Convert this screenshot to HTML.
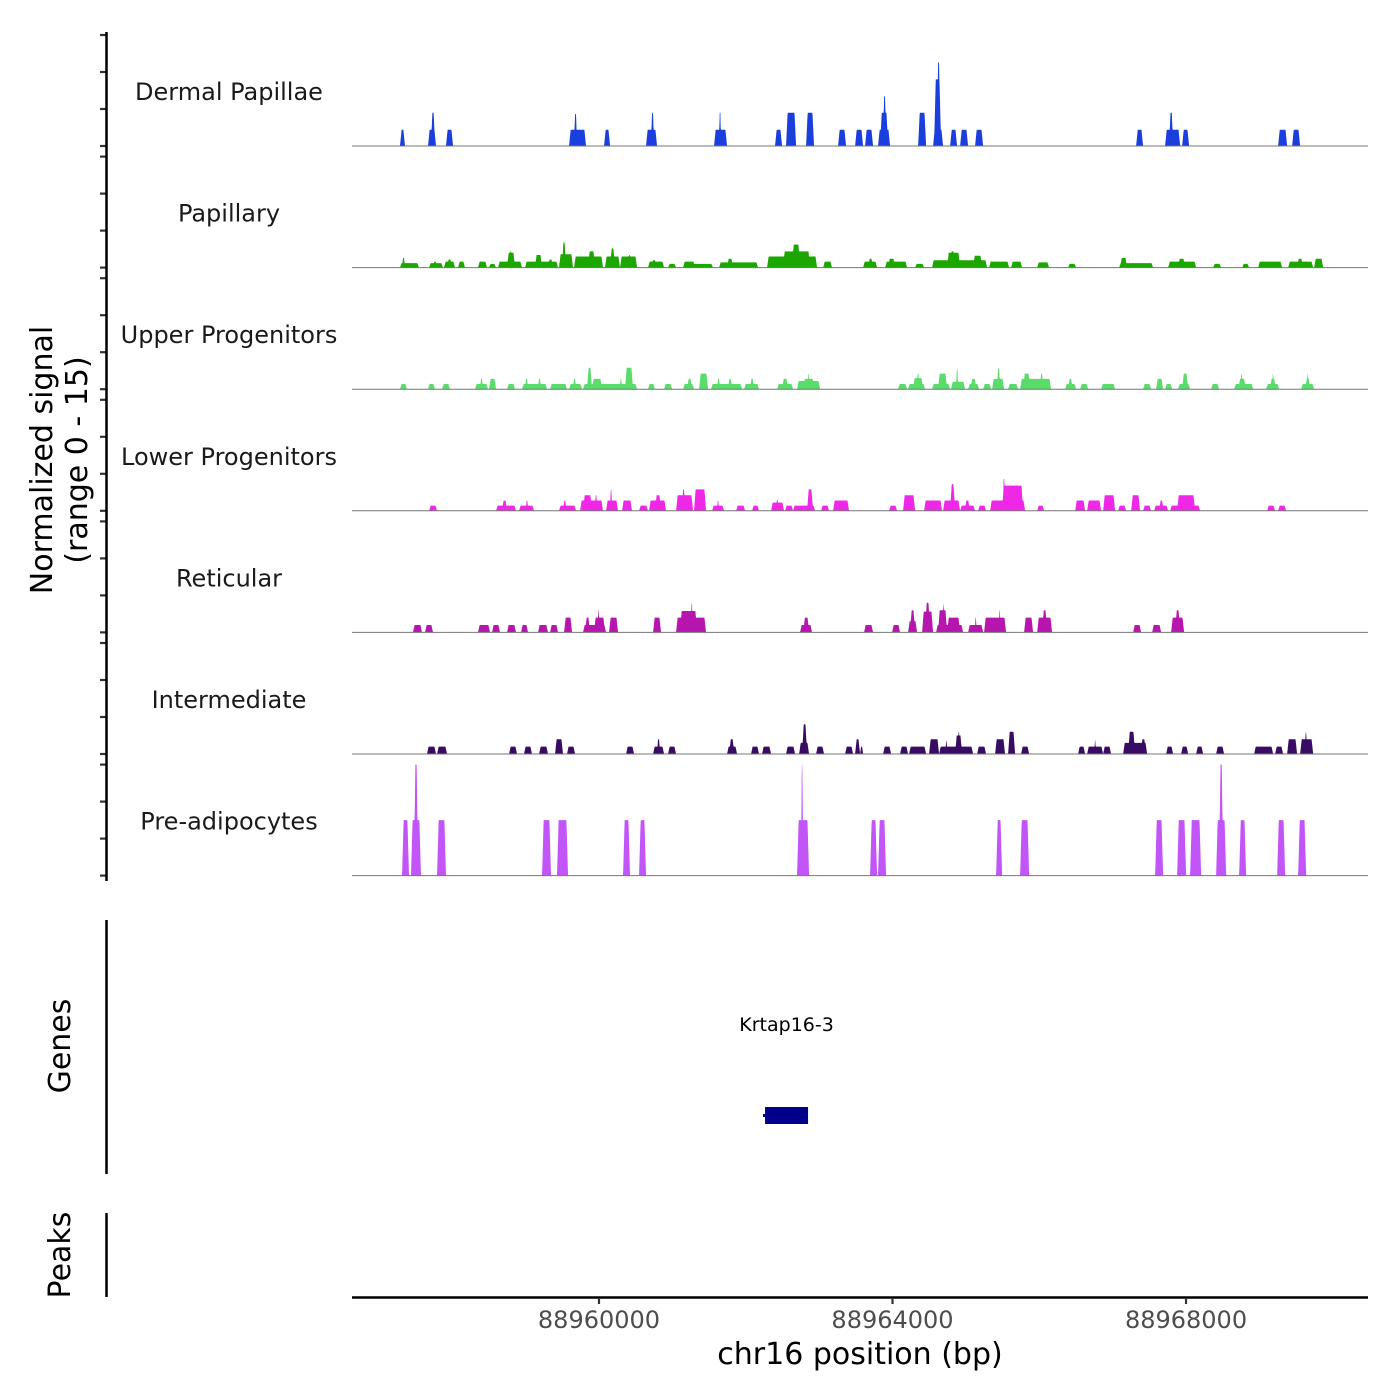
<!DOCTYPE html>
<html><head><meta charset="utf-8"><style>
html,body{margin:0;padding:0;background:#fff;}
svg{display:block;font-family:"DejaVu Sans","Liberation Sans",sans-serif;}
</style></head><body>
<svg id="chart" width="1400" height="1400" viewBox="0 0 1400 1400" xmlns="http://www.w3.org/2000/svg">
<g id="tracks"></g>
<g id="yaxis"></g>
<text transform="translate(52,460) rotate(-90)" text-anchor="middle" font-size="30" fill="#000"><tspan x="0" dy="0">Normalized signal</tspan><tspan x="0" dy="35">(range 0 - 15)</tspan></text>
<line x1="106.5" y1="920" x2="106.5" y2="1174" stroke="#000" stroke-width="2.5"/>
<text transform="translate(70,1046) rotate(-90)" text-anchor="middle" font-size="30">Genes</text>
<g id="genes"></g>
<line x1="106.5" y1="1213" x2="106.5" y2="1297" stroke="#000" stroke-width="2.5"/>
<text transform="translate(70,1255) rotate(-90)" text-anchor="middle" font-size="30">Peaks</text>
<g id="xaxis"></g>
<text x="860" y="1364" text-anchor="middle" font-size="30">chr16 position (bp)</text>
</svg>
<script>
const regionStart = 88956634;
const regionEnd = 88970480;
const trackNames = ["Dermal Papillae","Papillary","Upper Progenitors","Lower Progenitors","Reticular","Intermediate","Pre-adipocytes"];
const trackColors = ["#1a3fdc","#1ba600","#5adc6a","#ef28e8","#b616ae","#3a0b62","#c155f7"];
const xTicks = [88960000, 88964000, 88968000];
const xTickLabels = ["88960000","88964000","88968000"];
const yTicks = [0,5,10,15];
const geneNames = ["Krtap16-3"];
const geneStarts = [88962263];
const geneEnds = [88962849];
// segments: [start offset bp from regionStart, end offset bp, normalized signal]
const dermalPapillae = [[654,722,2.2],[1036,1145,2.2],[1077,1131,4.5],[1281,1377,2.2],[2958,3189,2.2],[3026,3067,4.3],[3435,3517,2.2],[4007,4157,2.2],[4075,4116,4.5],[4934,5111,2.2],[5002,5029,4.5],[5765,5861,2.2],[5915,6052,4.5],[6188,6297,4.5],[6624,6733,2.2],[6856,6965,2.2],[6992,7101,2.2],[7169,7333,2.2],[7197,7306,4.5],[7238,7278,6.7],[7715,7824,4.5],[7919,8055,2.2],[7933,8028,9],[7974,8014,11.3],[8151,8246,2.2],[8287,8396,2.2],[8491,8601,2.2],[10686,10781,2.2],[11081,11286,2.2],[11136,11190,4.5],[11313,11408,2.2],[12621,12744,2.2],[12812,12921,2.2]];
const papillary = [[654,913,0.6],[681,722,1.3],[1050,1240,0.6],[1104,1159,0.8],[1254,1404,0.8],[1295,1363,1.1],[1445,1540,0.8],[1717,1840,0.8],[1867,1963,0.5],[1990,2317,0.8],[2113,2222,2.0],[2150,2180,2.2],[2358,2808,0.8],[2494,2590,1.7],[2671,2740,1.1],[2821,3012,1.8],[2862,2917,3.3],[2880,2900,3.5],[3026,3421,1.5],[3217,3312,2.2],[3448,3653,1.5],[3517,3585,2.6],[3653,3885,1.5],[3760,3800,1.7],[4034,4253,0.8],[4080,4150,1.0],[4307,4416,0.5],[4512,4920,0.5],[4512,4675,0.8],[5002,5534,0.7],[5111,5193,1.2],[5656,6338,1.5],[5875,6243,2.2],[5997,6106,3.1],[6420,6542,0.8],[6965,7156,0.8],[7033,7101,1.2],[7265,7565,0.8],[7306,7401,1.2],[7674,7796,0.5],[7905,8655,1.0],[8110,8287,2.0],[8150,8220,2.2],[8464,8587,1.6],[8682,8955,0.8],[8982,9132,0.8],[9337,9500,0.7],[9759,9868,0.5],[10454,10918,0.6],[10468,10563,1.3],[11122,11504,0.8],[11258,11353,1.2],[11735,11844,0.5],[12131,12226,0.5],[12349,12676,0.8],[12758,13099,0.8],[12880,12960,1.2],[13112,13235,1.2]];
const upperProgenitors = [[654,750,0.7],[1036,1131,0.7],[1227,1336,0.7],[1676,1854,0.7],[1745,1786,1.4],[1867,1963,1.4],[2113,2222,0.7],[2317,2658,0.7],[2358,2399,1.4],[2535,2576,1.4],[2699,2930,0.7],[2958,3135,0.7],[3012,3053,1.4],[3149,3885,0.7],[3203,3271,2.9],[3271,3408,1.4],[3721,3830,2.9],[3650,3680,1.4],[4034,4130,0.7],[4253,4362,0.7],[4512,4661,0.7],[4566,4634,1.4],[4730,4852,2.1],[4893,5316,0.7],[4975,5016,1.4],[5125,5180,1.4],[5343,5547,0.7],[5425,5479,1.4],[5793,6011,0.7],[5861,5943,1.4],[6065,6379,1.1],[6150,6300,1.4],[6210,6235,2.1],[7442,7565,0.7],[7578,7810,0.7],[7646,7783,1.5],[7700,7730,2.1],[7905,8151,0.7],[7987,8110,2.1],[8164,8355,1.0],[8233,8260,2.8],[8396,8546,0.7],[8430,8510,1.4],[8601,8710,0.7],[8723,8887,1.4],[8791,8832,2.8],[8941,9077,0.7],[9105,9527,1.4],[9146,9241,2.1],[9377,9418,2.1],[9718,9868,0.7],[9760,9820,1.4],[9923,10032,0.7],[10209,10400,0.7],[10781,10890,0.7],[10958,11054,1.4],[11081,11177,0.7],[11258,11422,0.7],[11313,11395,2.1],[11708,11817,0.7],[12022,12281,0.7],[12080,12180,1.4],[12110,12135,2.1],[12458,12635,0.7],[12510,12590,1.4],[12540,12560,2.1],[12935,13112,0.7],[12990,13060,1.4],[13015,13035,2.1]];
const lowerProgenitors = [[1050,1159,0.7],[1963,2235,0.7],[2044,2113,1.4],[2276,2481,0.7],[2370,2400,1.4],[2821,3053,0.7],[2880,2920,1.4],[3108,3421,1.4],[3149,3271,2.1],[3310,3340,2.1],[3462,3626,1.4],[3517,3544,2.9],[3680,3816,1.4],[3912,4034,0.7],[4048,4280,1.4],[4130,4212,2.1],[4416,4648,2.1],[4498,4539,2.9],[4661,4825,2.9],[4907,5070,0.7],[4975,5000,1.4],[5234,5357,0.7],[5452,5547,0.7],[5711,5888,1.1],[5780,5810,1.5],[5902,6011,0.7],[6011,6311,0.7],[6202,6283,2.9],[6392,6502,0.7],[6556,6774,1.4],[7319,7428,0.7],[7510,7674,2.1],[7796,8042,1.4],[8055,8287,1.4],[8151,8219,3.6],[8287,8491,0.7],[8350,8420,1.4],[8532,8641,0.7],[8696,9173,1.4],[8860,9146,3.4],[8870,8900,4.3],[9337,9432,0.7],[9855,9991,1.4],[10018,10209,1.4],[10236,10400,2.1],[10441,10550,0.7],[10618,10740,2.1],[10781,10890,0.7],[10931,11122,0.7],[11000,11060,1.4],[11149,11558,0.7],[11245,11490,2.1],[12471,12580,0.7],[12621,12730,0.7]];
const reticular = [[831,954,1.0],[995,1104,1.0],[1717,1881,1.0],[1908,2017,1.0],[2113,2235,1.0],[2304,2399,1.0],[2535,2671,1.0],[2699,2808,1.0],[2890,2999,2.0],[3149,3462,1.0],[3176,3244,2.0],[3298,3448,2.0],[3350,3370,3.0],[3503,3626,2.0],[4103,4212,2.0],[4416,4825,2.0],[4471,4702,2.9],[4620,4640,3.9],[6106,6270,1.0],[6150,6230,2.0],[6978,7101,1.0],[7360,7469,1.0],[7578,7701,1.5],[7605,7674,3.0],[7769,7919,2.8],[7810,7878,4.0],[7960,8328,1.0],[7987,8110,3.0],[8055,8069,4.0],[8110,8287,2.0],[8396,8601,1.0],[8490,8510,2.0],[8614,8914,2.0],[8820,8835,3.0],[9159,9282,2.0],[9337,9541,2.0],[9405,9473,3.0],[10645,10754,1.0],[10904,11027,1.0],[11163,11340,2.0],[11218,11286,3.0]];
const intermediate = [[1022,1145,1.0],[1159,1295,1.0],[2140,2249,1.0],[2344,2453,1.0],[2549,2671,1.0],[2767,2876,2.0],[2930,3040,1.0],[3735,3844,1.0],[4103,4253,1.0],[4157,4198,2.0],[4307,4416,1.0],[5111,5248,1.0],[5140,5210,2.0],[5438,5547,1.0],[5588,5711,1.0],[5915,6038,1.0],[6093,6229,1.5],[6134,6202,4.0],[6324,6433,1.0],[6720,6829,1.0],[6856,6924,2.0],[6924,6965,1.0],[7238,7347,1.0],[7469,7578,1.0],[7592,7824,1.0],[7864,8001,2.0],[8001,8464,1.0],[8090,8110,1.8],[8219,8314,2.5],[8260,8280,3.0],[8519,8641,1.0],[8764,8900,2.0],[8941,9037,3.0],[9118,9228,1.0],[9895,9991,1.0],[10018,10236,1.0],[10120,10135,2.0],[10236,10345,1.0],[10509,10836,1.5],[10577,10672,3.0],[10750,10820,2.0],[11095,11190,1.0],[11299,11395,1.0],[11504,11599,1.0],[11776,11885,1.0],[12294,12553,1.0],[12580,12689,1.0],[12744,12880,2.0],[12921,13099,2.0],[12990,13010,3.0]];
const preAdipocytes = [[682,777,7.5],[804,940,7.5],[845,900,15],[859,886,15],[1159,1281,7.5],[2590,2712,7.5],[2794,2944,7.5],[3694,3789,7.5],[3912,4007,7.5],[6065,6229,7.5],[6120,6147,15],[7060,7156,7.5],[7169,7278,7.5],[8778,8860,7.5],[9105,9228,7.5],[10945,11054,7.5],[11245,11367,7.5],[11422,11572,7.5],[11776,11913,7.5],[11817,11872,15],[12090,12185,7.5],[12608,12717,7.5],[12894,13003,7.5]];
const trackData = [dermalPapillae, papillary, upperProgenitors, lowerProgenitors, reticular, intermediate, preAdipocytes];

const NS = "http://www.w3.org/2000/svg";
const plotLeft = 352, plotRight = 1368;
const trackTop0 = 24.4, trackH = 121.6, unitPx = 111/15;
function xScale(bp){ return plotLeft + (bp - regionStart) / (regionEnd - regionStart) * (plotRight - plotLeft); }
function yScale(t, v){ return trackTop0 + (t+1)*trackH - Math.min(v,15)*unitPx; }
function mk(tag, attrs, parent){ const e=document.createElementNS(NS,tag); for(const k in attrs) e.setAttribute(k,attrs[k]); parent.appendChild(e); return e; }

const tracksG = document.getElementById('tracks');
const yG = document.getElementById('yaxis');
trackData.forEach((segs, t) => {
  const g = mk('g', {}, tracksG);
  
  
  const base = yScale(t, 0);
  const step = 4;
  let lo = Infinity, hi = -Infinity;
  segs.forEach(s => { lo = Math.min(lo, s[0]); hi = Math.max(hi, s[1]); });
  let d = 'M' + xScale(regionStart + lo - 30).toFixed(2) + ',' + base;
  for (let o = lo - 30; o <= hi + 30; o += step) {
    let v = 0;
    segs.forEach(s => {
      const r = Math.max(4, Math.min(22, (s[1]-s[0])/3));
      let f = 0;
      if (o >= s[0] && o <= s[1]) {
        f = Math.min(1, (o - s[0]) / r, (s[1] - o) / r);
      }
      v = Math.max(v, f * s[2]);
    });
    d += 'L' + xScale(regionStart + o).toFixed(2) + ',' + yScale(t, v).toFixed(2);
  }
  d += 'L' + xScale(regionStart + hi + 30).toFixed(2) + ',' + base + 'Z';
  const area = mk('path', {d: d, fill: trackColors[t], stroke: 'none'}, g);
  
  
  const bl = mk('line', {x1: plotLeft, x2: plotRight, y1: base, y2: base, stroke: '#777', 'stroke-width': 1}, g);
  
  
  const lab = mk('text', {x: 229, y: yScale(t,0) - 46, 'text-anchor': 'middle', 'font-size': 24, fill: '#1a1a1a'}, g);
  lab.textContent = trackNames[t];
  
  
  yTicks.forEach(v => {
    const y = yScale(t, v);
    const tk = mk('line', {x1: 100, x2: 106, y1: y, y2: y, stroke: '#333', 'stroke-width': 2.2}, yG);
    
    
  });
});
const yl = mk('line', {x1: 106.5, x2: 106.5, y1: 32, y2: 881, stroke: '#000', 'stroke-width': 2.5}, yG);



const genesG = document.getElementById('genes');
geneNames.forEach((n, i) => {
  const x1 = xScale(geneStarts[i]), x2 = xScale(geneEnds[i]);
  const r = mk('rect', {x: x1, y: 1107, width: x2 - x1, height: 17, fill: '#00008b'}, genesG);
  
  
  const ln = mk('line', {x1: x1 - 2, x2: x1, y1: 1115.5, y2: 1115.5, stroke: '#00008b', 'stroke-width': 3}, genesG);
  
  
  const tx = mk('text', {x: (x1 + x2) / 2, y: 1031, 'text-anchor': 'middle', 'font-size': 19, fill: '#000'}, genesG);
  tx.textContent = n;
  
  
});

const xG = document.getElementById('xaxis');
const xl = mk('line', {x1: plotLeft, x2: plotRight, y1: 1297.5, y2: 1297.5, stroke: '#000', 'stroke-width': 2.5}, xG);


xTicks.forEach((v, i) => {
  const x = xScale(v);
  const tk = mk('line', {x1: x, x2: x, y1: 1298, y2: 1304, stroke: '#333', 'stroke-width': 2.2}, xG);
  
  
  const tl = mk('text', {x: x, y: 1328, 'text-anchor': 'middle', 'font-size': 24, fill: '#4d4d4d'}, xG);
  tl.textContent = xTickLabels[i];
  
  
});
</script>
</body></html>
